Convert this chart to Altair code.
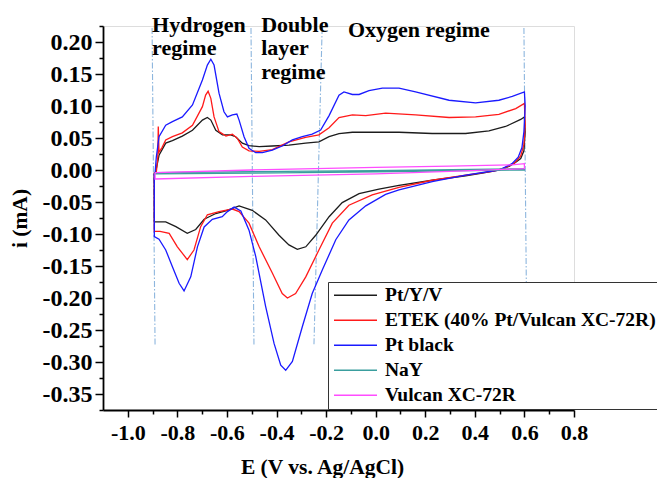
import altair as alt
import pandas as pd

# ---- cyclic voltammograms: potential E (V vs. Ag/AgCl) and current i (mA) ----
SERIES = ["Pt/Y/V", "ETEK (40% Pt/Vulcan XC-72R)", "Pt black", "NaY", "Vulcan XC-72R"]
COLORS = ["#1c1c1c", "#ff1a1a", "#1a1aff", "#3a9e9e", "#ff4dff"]

PTYV_E = [-0.888, -0.874, -0.847, -0.820, -0.780, -0.739, -0.699, -0.679, -0.665, -0.645,
          -0.618, -0.585, -0.565, -0.538, -0.511, -0.470, -0.417, -0.350, -0.283, -0.229,
          -0.188, -0.148, -0.094, -0.040, 0.094, 0.228, 0.363, 0.457, 0.524, 0.585, 0.600,
          0.603, 0.598, 0.585, 0.565, 0.540, 0.497, 0.430, 0.363, 0.228, 0.094, 0.013,
          -0.067, -0.135, -0.188, -0.242, -0.282, -0.316, -0.350, -0.390, -0.444, -0.498,
          -0.551, -0.605, -0.645, -0.692, -0.726, -0.760, -0.806, -0.847, -0.893, -0.893]
PTYV_I = [-0.004, 0.023, 0.042, 0.046, 0.053, 0.062, 0.078, 0.082, 0.078, 0.062,
          0.055, 0.055, 0.052, 0.042, 0.038, 0.0365, 0.0375, 0.039, 0.042, 0.044,
          0.052, 0.057, 0.059, 0.059, 0.059, 0.057, 0.057, 0.061, 0.068, 0.079, 0.083,
          0.060, 0.030, 0.018, 0.012, 0.006, 0.000, -0.005, -0.009, -0.016, -0.024, -0.030,
          -0.037, -0.051, -0.073, -0.102, -0.120, -0.124, -0.117, -0.102, -0.078, -0.063,
          -0.056, -0.064, -0.068, -0.077, -0.093, -0.099, -0.0885, -0.081, -0.081, -0.004]

ETEK_E = [-0.885, -0.879, -0.877, -0.874, -0.862, -0.847, -0.820, -0.780, -0.739, -0.699,
          -0.686, -0.676, -0.665, -0.652, -0.632, -0.604, -0.578, -0.558, -0.538, -0.511,
          -0.470, -0.417, -0.350, -0.283, -0.229, -0.188, -0.148, -0.094, -0.040, 0.040,
          0.161, 0.296, 0.403, 0.497, 0.565, 0.600,
          0.603, 0.598, 0.585, 0.560, 0.520, 0.470, 0.363, 0.228, 0.094, -0.014, -0.108,
          -0.175, -0.229, -0.282, -0.323, -0.356, -0.377, -0.417, -0.470, -0.511, -0.551,
          -0.578, -0.632, -0.679, -0.706, -0.733, -0.760, -0.800, -0.833, -0.870, -0.893,
          -0.893]
ETEK_I = [-0.004, 0.020, 0.068, 0.028, 0.035, 0.047, 0.052, 0.058, 0.070, 0.099,
          0.117, 0.123, 0.112, 0.083, 0.060, 0.053, 0.056, 0.0495, 0.036, 0.030,
          0.029, 0.032, 0.044, 0.051, 0.055, 0.066, 0.082, 0.086, 0.085, 0.089,
          0.086, 0.082, 0.083, 0.087, 0.096, 0.104,
          0.070, 0.040, 0.022, 0.011, 0.003, -0.002, -0.008, -0.016, -0.027, -0.039, -0.055,
          -0.083, -0.125, -0.167, -0.193, -0.200, -0.193, -0.161, -0.120, -0.083, -0.065,
          -0.061, -0.065, -0.070, -0.0885, -0.125, -0.140, -0.120, -0.099, -0.096, -0.096,
          -0.004]

PTBLACK_E = [-0.890, -0.885, -0.874, -0.847, -0.820, -0.780, -0.739, -0.699, -0.679, -0.665,
             -0.652, -0.632, -0.612, -0.598, -0.578, -0.560, -0.551, -0.531, -0.511, -0.484,
             -0.457, -0.417, -0.377, -0.336, -0.296, -0.256, -0.222, -0.188, -0.148, -0.128,
             -0.094, -0.067, -0.027, 0.027, 0.094, 0.161, 0.296, 0.403, 0.497, 0.551, 0.600,
             0.603, 0.598, 0.590, 0.575, 0.550, 0.520, 0.497, 0.363, 0.228, 0.094, 0.040,
             -0.040, -0.108, -0.161, -0.215, -0.256, -0.296, -0.336, -0.363, -0.383, -0.410,
             -0.444, -0.484, -0.511, -0.544, -0.571, -0.598, -0.619, -0.659, -0.692, -0.719,
             -0.746, -0.773, -0.793, -0.820, -0.847, -0.874, -0.893, -0.893]
PTBLACK_I = [-0.005, 0.020, 0.052, 0.070, 0.0755, 0.083, 0.1016, 0.1406, 0.164, 0.173,
             0.164, 0.120, 0.091, 0.083, 0.086, 0.0875, 0.078, 0.052, 0.034, 0.027,
             0.027, 0.031, 0.0375, 0.047, 0.052, 0.056, 0.0625, 0.085, 0.117, 0.122,
             0.118, 0.118, 0.124, 0.128, 0.128, 0.122, 0.109, 0.105, 0.109, 0.115, 0.122,
             0.100, 0.060, 0.035, 0.020, 0.010, 0.004, 0.000, -0.008, -0.018, -0.031, -0.038,
             -0.056, -0.078, -0.109, -0.156, -0.193, -0.245, -0.299, -0.313, -0.305, -0.271,
             -0.213, -0.135, -0.094, -0.064, -0.058, -0.065, -0.073, -0.077, -0.089, -0.120,
             -0.167, -0.189, -0.177, -0.151, -0.125, -0.108, -0.104, -0.005]

NAY_E = [-0.890, -0.500, 0.000, 0.600, 0.600, 0.000, -0.500, -0.890, -0.890]
NAY_I = [-0.004, -0.0025, -0.001, 0.002, 0.000, -0.003, -0.005, -0.006, -0.004]

VULCAN_E = [-0.890, -0.500, 0.000, 0.300, 0.550, 0.600, 0.600, 0.300, 0.000, -0.500, -0.890, -0.890]
VULCAN_I = [-0.004, 0.000, 0.004, 0.006, 0.008, 0.010, 0.002, -0.002, -0.006, -0.010, -0.014, -0.004]

CURVES = [(PTYV_E, PTYV_I), (ETEK_E, ETEK_I), (PTBLACK_E, PTBLACK_I),
          (NAY_E, NAY_I), (VULCAN_E, VULCAN_I)]

# ---- regime boundaries (dash-dot guides), top and bottom ends ----
GUIDE_E_TOP = [-0.902, -0.503, -0.216, 0.598]
GUIDE_E_BOT = [-0.890, -0.491, -0.249, 0.610]
GUIDE_I_TOP = [0.222, 0.222, 0.222, 0.222]
GUIDE_I_BOT = [-0.273, -0.273, -0.273, -0.273]

# ---- regime annotations ----
NOTE_TEXT = ["Hydrogen\nregime", "Double\nlayer\nregime", "Oxygen regime"]
NOTE_E = [-0.902, -0.462, -0.112]
NOTE_I = [0.216, 0.216, 0.208]

# ---- tick values ----
X_TICKS = [-1.0, -0.9, -0.8, -0.7, -0.6, -0.5, -0.4, -0.3, -0.2, -0.1, 0.0,
           0.1, 0.2, 0.3, 0.4, 0.5, 0.6, 0.7, 0.8]
Y_TICKS = [-0.375, -0.35, -0.325, -0.3, -0.275, -0.25, -0.225, -0.2, -0.175, -0.15,
           -0.125, -0.1, -0.075, -0.05, -0.025, 0.0, 0.025, 0.05, 0.075, 0.1, 0.125,
           0.15, 0.175, 0.2, 0.225]

rows = []
for name, (es, cs) in zip(SERIES, CURVES):
    for k, (e, c) in enumerate(zip(es, cs)):
        rows.append({"sample": name, "E": e, "i": c, "k": k})
curves = pd.DataFrame(rows)

guides = pd.DataFrame({"e1": GUIDE_E_TOP, "e2": GUIDE_E_BOT, "i1": GUIDE_I_TOP, "i2": GUIDE_I_BOT})
notes = pd.DataFrame({"text": NOTE_TEXT, "E": NOTE_E, "i": NOTE_I})

FONT = "Liberation Serif"
MINUS = "\u2212"

x_major = "abs(round(datum.value*5) - datum.value*5) < 0.001"
y_major = "abs(round(datum.value*20) - datum.value*20) < 0.001"

x_scale = alt.Scale(domain=[-1.1, 0.8], nice=False, zero=False)
y_scale = alt.Scale(domain=[-0.375, 0.225], nice=False, zero=False)

x_axis = alt.Axis(
    values=X_TICKS, title="E (V vs. Ag/AgCl)", grid=False,
    labelExpr=f"{x_major} ? replace(format(datum.value, '.1f'), '{MINUS}', '-') : ''",
    labelFont=FONT, labelFontSize=22, labelFontWeight="bold", labelColor="black",
    labelPadding=5, labelOverlap=False, labelFlush=False,
    tickSize={"condition": {"test": x_major, "value": 7}, "value": 4},
    tickColor="black", tickWidth=1.5, domainColor="black", domainWidth=1.8,
    titleFont=FONT, titleFontSize=21.5, titleFontWeight="bold", titleColor="black",
    titleX=219, titleY=57, titleBaseline="middle", titleAlign="center",
)
y_axis = alt.Axis(
    values=Y_TICKS, title="i (mA)", grid=False,
    labelExpr=f"{y_major} ? replace(format(datum.value, '.2f'), '{MINUS}', '-') : ''",
    labelFont=FONT, labelFontSize=24, labelFontWeight="bold", labelColor="black",
    labelPadding=3, labelOverlap=False, labelFlush=False, labelBound=False,
    tickSize={"condition": {"test": y_major, "value": 8}, "value": 4},
    tickColor="black", tickWidth=1.5, domainColor="black", domainWidth=1.8,
    titleFont=FONT, titleFontSize=21.5, titleFontWeight="bold", titleColor="black",
    titlePadding=11,
)

legend = alt.Legend(
    title=None, orient="none", legendX=225, legendY=256,
    direction="vertical", symbolType="stroke", symbolSize=1849, symbolStrokeWidth=1.5,
    symbolOffset=4, labelOffset=7, labelFont=FONT, labelFontSize=19.5,
    labelFontWeight="bold", labelColor="black", labelLimit=600,
    padding=1, rowPadding=0, clipHeight=24.5,
    strokeColor="#333333", fillColor="white",
)

guide_rules = alt.Chart(guides).mark_rule(
    color="#8db6de", strokeWidth=1.1, strokeDash=[6, 2, 1.5, 2]
).encode(
    x=alt.X("e1:Q", scale=x_scale, axis=x_axis),
    x2="e2:Q",
    y=alt.Y("i1:Q", scale=y_scale, axis=y_axis),
    y2="i2:Q",
)

lines = alt.Chart(curves).mark_line(strokeWidth=1.3).encode(
    x=alt.X("E:Q", scale=x_scale, axis=x_axis),
    y=alt.Y("i:Q", scale=y_scale, axis=y_axis),
    color=alt.Color("sample:N", scale=alt.Scale(domain=SERIES, range=COLORS),
                    sort=SERIES, legend=legend),
    order=alt.Order("k:Q"),
)

labels = alt.Chart(notes).mark_text(
    align="left", baseline="alphabetic", font=FONT, fontSize=22,
    fontWeight="bold", color="black", lineBreak="\n", lineHeight=23.5
).encode(
    x=alt.X("E:Q", scale=x_scale, axis=x_axis),
    y=alt.Y("i:Q", scale=y_scale, axis=y_axis),
    text="text:N",
)

chart = alt.layer(guide_rules, lines, labels).properties(
    width=471, height=384,
    padding={"left": 103, "top": 26, "right": 83, "bottom": 68},
    autosize="none",
).configure_view(stroke=None).configure_axis(
    labelOverlap=False
).configure(background="white")

chart.save("out.html", embed_options={"renderer": "svg", "actions": False})
